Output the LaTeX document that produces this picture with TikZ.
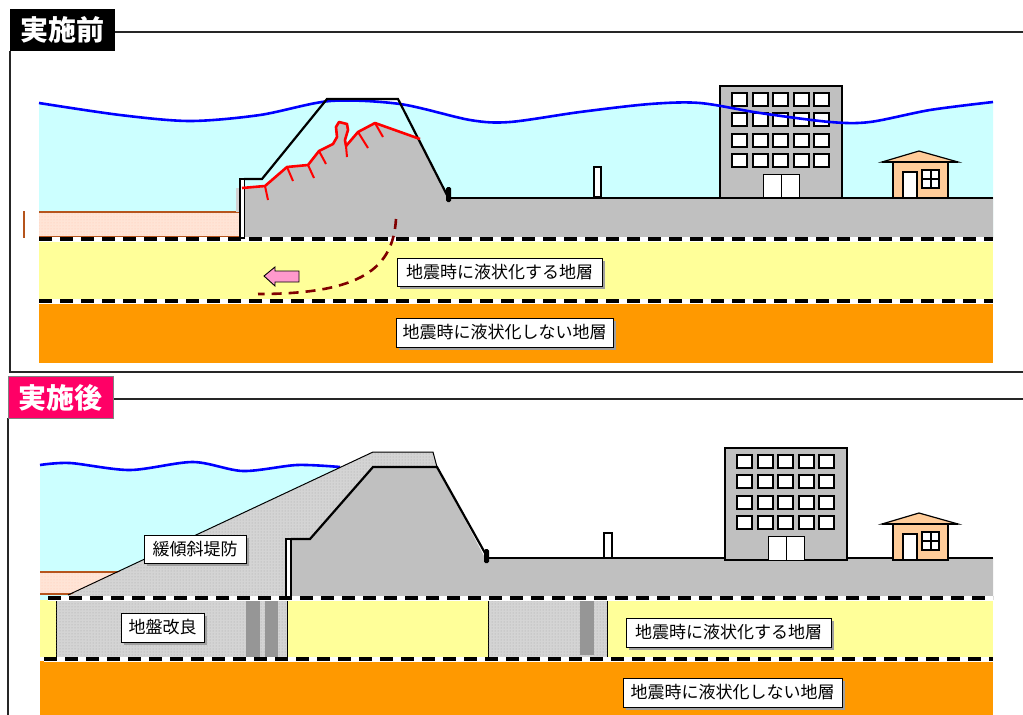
\documentclass[tikz,border=0pt]{standalone}
\usepackage{fontspec}
\newfontfamily\jp{Noto Sans CJK JP}
\usetikzlibrary{patterns,shadows}

\definecolor{sky}{HTML}{CCFFFF}
\definecolor{wavecol}{HTML}{0000FF}
\definecolor{soil}{HTML}{C0C0C0}
\definecolor{liq}{HTML}{FFFF99}
\definecolor{firm}{HTML}{FF9900}
\definecolor{beach}{HTML}{FFE4D6}
\definecolor{beachdot}{HTML}{FFC8B2}
\definecolor{beachline}{HTML}{B5541C}
\definecolor{crack}{HTML}{FF0000}
\definecolor{slip}{HTML}{800000}
\definecolor{arrowpink}{HTML}{FF99CC}
\definecolor{titlered}{HTML}{FF0066}
\definecolor{pilecol}{HTML}{969696}
\definecolor{housewall}{HTML}{FFCC99}
\definecolor{dotgrey}{HTML}{D4D4D4}
\definecolor{dotdark}{HTML}{A6A6A6}

\tikzset{
  labelbox/.style={draw=black, line width=0.9pt, fill=white, inner sep=0pt,
    font=\jp\fontsize{17}{17}\selectfont,
    drop shadow={shadow xshift=3pt, shadow yshift=-3pt, fill=gray!75, opacity=1}},
  titlebox/.style={inner sep=0pt, minimum width=105pt, minimum height=42pt,
    text=white, font=\jp\bfseries\fontsize{28}{28}\selectfont},
  frameline/.style={line width=1.3pt, draw=black!85},
  wave/.style={draw=wavecol, line width=2.6pt, line join=round},
  boundarywhite/.style={draw=white, line width=5pt},
  boundary/.style={draw=black, line width=4pt, dash pattern=on 13pt off 8pt},
  outline/.style={draw=black, line width=2.2pt, line join=miter},
  dotted soil/.style={fill=dotgrey, postaction={pattern=dots, pattern color=dotdark}},
  dotted beach/.style={fill=beach, postaction={pattern=dots, pattern color=beachdot}},
  pic office/.style={},
  window/.style={fill=white, draw=black, line width=2pt},
  pics/office/.style={code={
    \draw[fill=soil, line width=2.4pt] (0,0) rectangle (122,112);
    \foreach \i in {0,...,4}{
      \foreach \j in {0,...,3}{
        \draw[window] ({12+\i*20.6},{7+\j*20.3}) rectangle ++(15,13);
      }
    }
    \draw[fill=white, line width=1pt] (43,88) rectangle (79,112);
    \draw[line width=1pt] (61,88) -- (61,112);
  }},
  pics/house/.style={code={
    \draw[fill=housewall, line width=1.2pt] (0,11) -- (37,0) -- (76,11) -- cycle;
    \draw[line width=2.6pt] (0,11) -- (76,11);
    \draw[fill=housewall, line width=2.4pt] (11,11) rectangle (66,47);
    \draw[fill=white, line width=2pt] (21,21) rectangle (35,47);
    \draw[fill=white, line width=2pt] (40,19) rectangle (57,37);
    \draw[line width=2pt] (48.5,19) -- (48.5,37) (40,28) -- (57,28);
  }}
}

\begin{document}
\begin{tikzpicture}[x=1pt,y=-1pt]
\useasboundingbox[fill=white] (0,0) rectangle (1023,715);

% ================= before the works =================
% river water
\fill[sky] plot[smooth] coordinates {(39,103) (120,115) (190,121) (260,115) (330,101)
  (400,104) (470,120) (510,122) (580,112) (650,104) (700,103) (760,113) (830,122)
  (870,122) (930,110) (993,102)} -- (993,238) -- (39,238) -- cycle;
% riverside flat
\fill[dotted beach] (39,212) rectangle (240,237);
\draw[beachline, line width=1.3pt] (39,212) -- (240,212) (39,237) -- (240,237);
\draw[beachline, line width=1.3pt] (24,211) -- (24,238);
\fill[gray!35] (236,188) rectangle (240,212);
% soil layers
\fill[liq] (39,241) rectangle (993,299);
\fill[firm] (39,303) rectangle (993,363);
% settled levee and ground
\fill[soil] (244,238) -- (244,189) -- (265,186) -- (287,167) -- (308,165) -- (319,151)
  -- (333,144) -- (337,137) -- (336,127) -- (339,122) -- (347,124) -- (348,130)
  -- (345,140) -- (346,146) -- (358,132) -- (375,123) -- (420,139) -- (448,197)
  -- (993,197) -- (993,238) -- cycle;
% layer boundaries
\draw[boundarywhite] (39,239) -- (993,239);
\draw[boundary] (39,239) -- (993,239);
\draw[boundarywhite] (39,301) -- (993,301);
\draw[boundary] (39,301) -- (993,301);
% buildings
\pic at (720,86) {office};
\pic at (882,151) {house};
\draw[fill=white, line width=2pt] (594,167) rectangle (601,197);
% water surface
\draw[wave] plot[smooth] coordinates {(39,103) (120,115) (190,121) (260,115) (330,101)
  (400,104) (470,120) (510,122) (580,112) (650,104) (700,103) (760,113) (830,122)
  (870,122) (930,110) (993,102)};
% original levee outline
\draw[outline] (244,179) -- (262,179) -- (327,99) -- (398,99) -- (448,197);
\draw[fill=white, line width=1.5pt] (240,179) rectangle (244.5,238);
\fill[black, rounded corners=1.5pt] (446,187) rectangle (451,202);
\draw[line width=2.2pt] (450,198) -- (993,198);
% cracks on the deformed levee
\draw[crack, line width=2.6pt, line join=round] (242,188) -- (265,186) -- (287,167)
  -- (308,165) -- (319,151) -- (333,144) -- (337,137) -- (336,127) -- (339,122)
  -- (347,124) -- (348,130) -- (345,140) -- (346,146) -- (358,132) -- (375,123)
  -- (420,139);
\draw[crack, line width=2pt] (265,186) -- (268,200) (287,167) -- (293,181)
  (308,165) -- (314,178) (319,151) -- (326,164) (346,146) -- (347,157)
  (358,132) -- (368,148) (375,123) -- (383,137);
% slip surface and lateral flow
\draw[slip, line width=2.6pt, dash pattern=on 10pt off 7pt]
  (396,219) .. controls (393,268) and (362,294) .. (258,294);
\draw[fill=arrowpink, line width=0.9pt] (264,276) -- (275,267) -- (275,271) -- (299,271)
  -- (299,282) -- (275,282) -- (275,286) -- cycle;
% labels
\node[labelbox, minimum width=205pt, minimum height=28pt] (liqA) at (499.5,272) {地震時に液状化する地層};
\node[labelbox, minimum width=217pt, minimum height=29pt] (firmA) at (504.5,332.5) {地震時に液状化しない地層};
% panel frame and title
\draw[frameline] (115,32) -- (1023,32);
\draw[frameline] (10,51) -- (10,372) -- (1023,372);
\node[titlebox, fill=black] (before) at (62,30) {実施前};

% ================= after the works =================
\fill[sky] plot[smooth] coordinates {(40,465) (70,463) (130,470) (193,462) (243,471)
  (297,465) (340,467)} -- (340,600) -- (40,600) -- cycle;
\draw[wave] plot[smooth] coordinates {(40,465) (70,463) (130,470) (193,462) (243,471)
  (297,465) (340,467)};
\fill[dotted beach] (40,572) rectangle (200,594);
\draw[beachline, line width=1.3pt] (40,572) -- (200,572) (40,594) -- (200,594);
% soil layers
\fill[liq] (40,600) rectangle (993,657);
\fill[firm] (40,661) rectangle (993,715);
% existing levee and ground
\fill[soil] (288,597) -- (288,539) -- (310,539) -- (373,467) -- (437,467) -- (485,558)
  -- (993,558) -- (993,597) -- cycle;
% gentle-slope levee
\fill[dotted soil] (68,596) -- (373,452) -- (433,452) -- (437,467) -- (373,467)
  -- (310,539) -- (288,539) -- (288,597) -- (68,597) -- cycle;
\draw[line width=1pt] (68,595) -- (373,452) -- (433,452) -- (437,467);
% ground improvement
\draw[dotted soil, line width=0.9pt] (56,598) rectangle (287,659);
\fill[pilecol] (246,600) rectangle (260,657);
\fill[pilecol] (265,600) rectangle (278,657);
\draw[dotted soil, line width=0.9pt] (488,599) rectangle (607,657);
\fill[pilecol] (580,600) rectangle (594,655);
% layer boundaries
\draw[boundarywhite] (48,598) -- (993,598);
\draw[boundary] (48,598) -- (993,598);
\draw[boundarywhite] (44,659) -- (993,659);
\draw[boundary] (44,659) -- (993,659);
% levee outline
\draw[outline] (291,539) -- (310,539) -- (373,467) -- (437,467) -- (485,553);
\draw[fill=white, line width=1.5pt] (286,539) rectangle (291,597);
\fill[black, rounded corners=1.5pt] (484,549) rectangle (489,563);
\draw[line width=2.2pt] (487,558) -- (993,558);
% buildings
\pic at (725,448) {office};
\pic at (882,513) {house};
\draw[fill=white, line width=2pt] (604,533) rectangle (612,558);
% labels
\node[labelbox, minimum width=102pt, minimum height=28pt] (gentle) at (195,549) {緩傾斜堤防};
\node[labelbox, minimum width=83pt, minimum height=29pt] (improve) at (162.5,627.5) {地盤改良};
\node[labelbox, minimum width=205pt, minimum height=29pt] (liqB) at (728.5,632.5) {地震時に液状化する地層};
\node[labelbox, minimum width=219pt, minimum height=29pt] (firmB) at (732.5,692.5) {地震時に液状化しない地層};
% panel frame and title
\draw[frameline] (113,399) -- (1023,399);
\draw[frameline] (8,418) -- (8,715);
\node[titlebox, fill=titlered, draw=gray, line width=1pt] (after) at (60.5,397.5) {実施後};
\end{tikzpicture}
\end{document}
